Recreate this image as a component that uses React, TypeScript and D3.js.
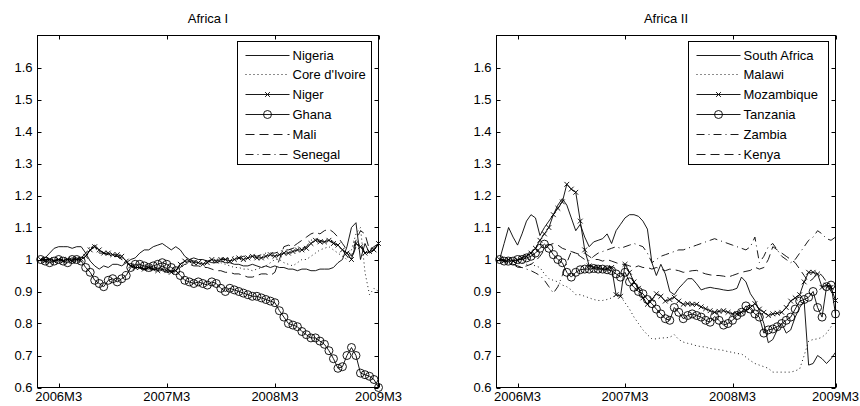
import React from "react";
import * as d3 from "d3";

// ---- time axis (months after 2006M3) ----
const START_MONTH = -2; // first observation
const STEP = 0.5; // months between observations
const X_MIN = -2.35;
const X_MAX = 35.5;
const xTickMonths = [0, 12, 24, 35.5];
const xTickLabels = ["2006M3", "2007M3", "2008M3", "2009M3"];

// ---- value axis ----
const Y_MIN = 0.6;
const Y_MAX = 1.7;
const yTickValues = [0.6, 0.7, 0.8, 0.9, 1.0, 1.1, 1.2, 1.3, 1.4, 1.5, 1.6];
const yTickLabels = ["0.6", "0.7", "0.8", "0.9", "1", "1.1", "1.2", "1.3", "1.4", "1.5", "1.6"];

// ---- Africa I ----
const africa1Names = ["Nigeria", "Core d'Ivoire", "Niger", "Ghana", "Mali", "Senegal"];

const nigeria = [1.0, 1.005, 1.02, 1.035,
  1.04, 1.04, 1.04, 1.035, 1.04, 1.04, 1.02, 0.995, 0.98, 0.97, 0.98, 0.975, 0.985, 0.985, 0.98, 0.99, 1.0, 1.005, 1.02, 1.03, 1.03, 1.04, 1.045, 1.05,
  1.04, 1.03, 1.04, 1.03, 1.01, 1.0, 1.005, 1.0, 1.0, 0.995, 0.99, 0.99, 0.995, 0.99, 0.99, 0.985, 0.985, 0.98, 0.98, 0.985, 0.98, 0.975, 0.98, 0.975,
  0.98, 0.975, 0.975, 0.97, 0.97, 0.965, 0.97, 0.97, 0.965, 0.965, 0.97, 0.97, 0.97, 0.975, 0.99, 1.0, 1.04, 1.1, 1.115, 1.0, 1.05, 1.02, 1.03, 1.05];

const coteDIvoire = [1.0, 1.0, 0.995, 1.0,
  1.0, 1.005, 1.0, 1.0, 1.005, 1.0, 1.02, 1.04, 1.035, 1.025, 1.02, 1.015, 1.01, 1.01, 1.0, 0.985, 0.98, 0.98, 0.975, 0.98, 0.975, 0.975, 0.97, 0.97,
  0.965, 0.96, 0.965, 0.98, 0.99, 0.99, 0.995, 0.99, 0.99, 0.995, 0.995, 0.99, 0.99, 0.985, 0.98, 0.975, 0.975, 0.97, 0.97, 0.965, 0.97, 0.975, 0.98, 0.99,
  1.0, 1.0, 0.99, 0.985, 0.98, 0.99, 1.0, 1.0, 1.01, 1.02, 1.03, 1.035, 1.04, 1.03, 1.02, 1.01, 1.0, 1.03, 1.08, 1.1, 0.96, 0.89, 0.91, 0.9];

const niger = [1.0, 0.995, 1.0, 0.995,
  1.0, 0.995, 1.0, 0.995, 1.0, 1.0, 1.01, 1.03, 1.04, 1.03, 1.02, 1.02, 1.015, 1.015, 1.01, 0.995, 0.98, 0.975, 0.975, 0.97, 0.975, 0.97, 0.965, 0.97,
  0.965, 0.96, 0.965, 0.985, 0.995, 0.995, 0.99, 0.99, 0.985, 0.99, 1.0, 0.995, 1.0, 1.0, 0.995, 1.0, 1.005, 1.0, 1.005, 1.01, 1.005, 1.005, 1.01, 1.015,
  1.01, 1.015, 1.02, 1.02, 1.025, 1.03, 1.03, 1.035, 1.05, 1.06, 1.055, 1.055, 1.06, 1.05, 1.045, 1.03, 1.02, 1.0, 1.05, 1.04, 1.02, 1.025, 1.03, 1.05];

const ghana = [1.0, 0.995, 0.99, 0.995,
  1.0, 0.995, 0.99, 1.0, 1.0, 0.995, 0.975, 0.96, 0.935, 0.925, 0.915, 0.935, 0.94, 0.93, 0.94, 0.95, 0.975, 0.985, 0.985, 0.98, 0.975, 0.98, 0.985, 0.99,
  0.985, 0.975, 0.965, 0.95, 0.935, 0.93, 0.925, 0.93, 0.925, 0.92, 0.93, 0.925, 0.91, 0.9, 0.91, 0.905, 0.9, 0.895, 0.89, 0.885, 0.885, 0.88, 0.875, 0.87,
  0.865, 0.84, 0.82, 0.8, 0.795, 0.79, 0.775, 0.765, 0.755, 0.755, 0.745, 0.735, 0.715, 0.69, 0.66, 0.665, 0.7, 0.725, 0.7, 0.645, 0.64, 0.635, 0.625, 0.6];

const mali = [1.0, 1.0, 1.0, 0.995,
  1.0, 1.0, 1.0, 1.005, 1.0, 1.005, 1.02, 1.035, 1.045, 1.03, 1.02, 1.015, 1.015, 1.01, 1.0, 0.99, 0.98, 0.98, 0.975, 0.97, 0.975, 0.97, 0.97, 0.975,
  0.97, 0.965, 0.965, 0.975, 0.985, 0.985, 0.98, 0.98, 0.975, 0.975, 0.97, 0.965, 0.965, 0.96, 0.96, 0.955, 0.955, 0.95, 0.945, 0.945, 0.95, 0.955, 0.955, 0.95,
  0.96, 1.0, 1.04, 1.045, 1.04, 1.05, 1.06, 1.07, 1.08, 1.085, 1.08, 1.09, 1.095, 1.085, 1.07, 1.05, 1.03, 1.01, 1.06, 1.09, 1.08, 1.03, 1.04, 1.05];

const senegal = [1.0, 1.0, 1.005, 1.0,
  1.0, 0.995, 1.0, 1.0, 1.005, 1.0, 1.01, 1.03, 1.04, 1.02, 1.02, 1.015, 1.01, 1.01, 1.005, 0.99, 0.98, 0.975, 0.975, 0.975, 0.97, 0.975, 0.97, 0.965,
  0.96, 0.955, 0.965, 0.985, 0.995, 1.0, 0.995, 0.995, 1.0, 0.995, 1.0, 1.0, 1.005, 1.0, 1.005, 1.01, 1.005, 1.01, 1.01, 1.015, 1.01, 1.015, 1.02, 1.02,
  1.02, 1.025, 1.03, 1.03, 1.035, 1.04, 1.035, 1.04, 1.06, 1.065, 1.06, 1.055, 1.065, 1.055, 1.04, 1.03, 1.01, 1.0, 1.04, 1.05, 1.02, 1.02, 1.035, 1.045];

// ---- Africa II ----
const africa2Names = ["South Africa", "Malawi", "Mozambique", "Tanzania", "Zambia", "Kenya"];

const southAfrica = [1.0, 1.05, 1.1, 1.07,
  1.045, 1.08, 1.12, 1.14, 1.13, 1.075, 1.1, 1.12, 1.14, 1.17, 1.19, 1.17, 1.13, 1.09, 1.11, 1.07, 1.04, 1.055, 1.06, 1.065, 1.08, 1.05, 1.09, 1.11,
  1.13, 1.14, 1.14, 1.135, 1.12, 1.095, 0.99, 0.95, 0.985, 0.955, 0.9, 0.89, 0.91, 0.925, 0.94, 0.94, 0.924, 0.905, 0.91, 0.913, 0.91, 0.908, 0.905, 0.903,
  0.905, 0.91, 0.945, 0.93, 0.893, 0.872, 0.84, 0.8, 0.74, 0.75, 0.78, 0.8, 0.77, 0.78, 0.82, 0.85, 0.87, 0.67, 0.675, 0.7, 0.69, 0.675, 0.69, 0.71];

const malawi = [1.0, 0.995, 0.99, 0.985,
  0.985, 0.99, 0.985, 0.985, 0.98, 0.975, 0.955, 0.94, 0.935, 0.93, 0.92, 0.915, 0.905, 0.89, 0.89, 0.885, 0.88, 0.875, 0.872, 0.872, 0.875, 0.88, 0.89, 0.885,
  0.865, 0.845, 0.82, 0.8, 0.78, 0.765, 0.752, 0.752, 0.755, 0.755, 0.757, 0.765, 0.75, 0.742, 0.738, 0.735, 0.73, 0.728, 0.726, 0.722, 0.72, 0.718, 0.716, 0.712,
  0.71, 0.706, 0.705, 0.695, 0.684, 0.675, 0.67, 0.665, 0.66, 0.648, 0.648, 0.648, 0.648, 0.648, 0.652, 0.658, 0.7, 0.745, 0.75, 0.752, 0.757, 0.77, 0.79, 0.81];

const mozambique = [1.0, 0.995, 1.0, 0.995,
  0.997, 1.005, 1.01, 1.02, 1.035, 1.06, 1.08, 1.1, 1.14, 1.16, 1.18, 1.235, 1.22, 1.21, 1.12, 1.03, 0.98, 0.976, 0.975, 0.97, 0.972, 0.975, 0.89, 0.885,
  0.985, 0.96, 0.93, 0.91, 0.88, 0.86, 0.875, 0.893, 0.885, 0.87, 0.875, 0.882, 0.87, 0.86, 0.862, 0.86, 0.86, 0.852, 0.846, 0.84, 0.835, 0.838, 0.84, 0.835,
  0.83, 0.83, 0.835, 0.84, 0.85, 0.862, 0.845, 0.835, 0.825, 0.83, 0.832, 0.835, 0.85, 0.87, 0.88, 0.89, 0.93, 0.96, 0.96, 0.955, 0.913, 0.92, 0.913, 0.872];

const tanzania = [1.0, 0.995, 0.995, 0.995,
  1.0, 1.0, 1.005, 1.01, 1.02, 1.035, 1.048, 1.035, 1.015, 1.0, 0.99, 0.96, 0.945, 0.96, 0.968, 0.97, 0.97, 0.972, 0.97, 0.97, 0.968, 0.965, 0.955, 0.945,
  0.96, 0.93, 0.913, 0.9, 0.893, 0.875, 0.862, 0.845, 0.83, 0.815, 0.81, 0.85, 0.835, 0.815, 0.825, 0.83, 0.825, 0.82, 0.81, 0.804, 0.822, 0.81, 0.795, 0.8,
  0.81, 0.825, 0.835, 0.855, 0.845, 0.83, 0.82, 0.77, 0.78, 0.783, 0.79, 0.8, 0.81, 0.82, 0.845, 0.87, 0.875, 0.882, 0.9, 0.85, 0.82, 0.915, 0.92, 0.83];

const zambia = [1.0, 0.995, 0.99, 0.985,
  0.976, 0.975, 0.97, 0.965, 0.958, 0.95, 0.935, 0.915, 0.895, 0.915, 0.95, 0.99, 1.025, 1.02, 1.01, 1.0, 0.997, 1.01, 1.02, 1.025, 1.03, 1.035, 1.04, 1.035,
  1.04, 1.045, 1.05, 1.045, 1.04, 1.02, 0.99, 1.0, 1.01, 1.015, 1.02, 1.025, 1.03, 1.03, 1.035, 1.04, 1.045, 1.05, 1.055, 1.06, 1.065, 1.06, 1.055, 1.05,
  1.045, 1.04, 1.035, 1.03, 1.04, 1.07, 0.99, 1.01, 1.04, 1.05, 1.03, 1.01, 1.0, 0.99, 1.0, 1.02, 1.04, 1.06, 1.07, 1.09, 1.08, 1.065, 1.06, 1.07];

const kenya = [1.0, 1.0, 0.99, 0.985,
  0.98, 0.975, 0.98, 0.985, 0.995, 1.01, 1.03, 1.045, 1.05, 1.045, 1.035, 1.03, 1.025, 1.02, 1.015, 1.02, 1.01, 1.0, 1.0, 0.995, 1.0, 0.995, 0.99, 0.985,
  0.985, 0.98, 0.975, 0.98, 0.975, 0.975, 0.97, 0.975, 0.97, 0.965, 0.97, 0.968, 0.965, 0.96, 0.962, 0.965, 0.966, 0.96, 0.955, 0.952, 0.95, 0.95, 0.948, 0.945,
  0.95, 0.955, 0.96, 0.963, 0.966, 0.976, 0.97, 0.975, 1.0, 1.04, 1.03, 1.02, 1.01, 1.0, 0.99, 0.97, 0.95, 0.93, 0.94, 0.96, 0.95, 0.93, 0.9, 0.88];

// ---- styles (kept apart from data) ----
type LineStyle = { dash?: string; marker?: "x" | "o" };
const SOLID: LineStyle = {};
const DOTTED: LineStyle = { dash: "1,3" };
const DASHED: LineStyle = { dash: "9,5" };
const DASHDOT: LineStyle = { dash: "8,4,1,4" };
const XMARK: LineStyle = { marker: "x" };
const OMARK: LineStyle = { marker: "o" };

const africa1Styles = [SOLID, DOTTED, XMARK, OMARK, DASHED, DASHDOT];
const africa2Styles = [SOLID, DOTTED, XMARK, OMARK, DASHDOT, DASHED];

const FONT = "'Liberation Sans', Arial, Helvetica, sans-serif";
const TOP = 35.5;
const BOTTOM = 387.5;

function Marker({ kind, cx, cy }: { kind: "x" | "o"; cx: number; cy: number }) {
  if (kind === "o") {
    return <circle cx={cx} cy={cy} r={4} fill="none" stroke="#000" strokeWidth={0.9} />;
  }
  const s = 2.4;
  return (
    <path
      d={`M${cx - s},${cy - s}L${cx + s},${cy + s}M${cx - s},${cy + s}L${cx + s},${cy - s}`}
      stroke="#000"
      strokeWidth={0.9}
      fill="none"
    />
  );
}

function Panel({
  title,
  left,
  right,
  names,
  series,
  styles,
  legendWidth,
}: {
  title: string;
  left: number;
  right: number;
  names: string[];
  series: number[][];
  styles: LineStyle[];
  legendWidth: number;
}) {
  const x = d3.scaleLinear().domain([X_MIN, X_MAX]).range([left, right]);
  const y = d3.scaleLinear().domain([Y_MIN, Y_MAX]).range([BOTTOM, TOP]);
  const line = d3
    .line<number>()
    .x((_, i) => x(START_MONTH + i * STEP))
    .y((v) => y(v));

  const tickLen = 4;
  const lgX = right - 7 - legendWidth;
  const lgY = 41.5;
  const rowY = (i: number) => 54.5 + i * 19.95;

  return (
    <g fontFamily={FONT} fontSize={13} fill="#000">
      {/* data */}
      {series.map((vals, si) => {
        const st = styles[si];
        return (
          <g key={names[si]}>
            <path
              d={line(vals) || ""}
              fill="none"
              stroke="#000"
              strokeWidth={0.9}
              strokeDasharray={st.dash}
            />
            {st.marker &&
              vals.map((v, i) => (
                <Marker key={i} kind={st.marker!} cx={x(START_MONTH + i * STEP)} cy={y(v)} />
              ))}
          </g>
        );
      })}

      {/* axes box */}
      <rect x={left} y={TOP} width={right - left} height={BOTTOM - TOP} fill="none" stroke="#000" strokeWidth={1} />

      {/* y ticks */}
      {yTickValues.map((v, i) => (
        <g key={"y" + i}>
          <line x1={left} x2={left + tickLen} y1={Math.round(y(v)) + 0.5} y2={Math.round(y(v)) + 0.5} stroke="#000" />
          <line x1={right - tickLen} x2={right} y1={Math.round(y(v)) + 0.5} y2={Math.round(y(v)) + 0.5} stroke="#000" />
          <text x={left - 5} y={y(v)} dy="0.36em" textAnchor="end">
            {yTickLabels[i]}
          </text>
        </g>
      ))}

      {/* x ticks */}
      {xTickMonths.map((m, i) => (
        <g key={"x" + i}>
          <line x1={Math.round(x(m)) + 0.5} x2={Math.round(x(m)) + 0.5} y1={BOTTOM} y2={BOTTOM - tickLen} stroke="#000" />
          <line x1={Math.round(x(m)) + 0.5} x2={Math.round(x(m)) + 0.5} y1={TOP} y2={TOP + tickLen} stroke="#000" />
          <text x={x(m)} y={401} textAnchor="middle">
            {xTickLabels[i]}
          </text>
        </g>
      ))}

      {/* title */}
      <text x={(left + right) / 2} y={23} textAnchor="middle">
        {title}
      </text>

      {/* legend */}
      <rect x={lgX} y={lgY} width={legendWidth} height={123} fill="#fff" stroke="#000" strokeWidth={1} />
      {names.map((n, i) => {
        const st = styles[i];
        const ly = Math.round(rowY(i)) + 0.5;
        const x1 = lgX + 8;
        const x2 = lgX + 52;
        return (
          <g key={"lg" + i}>
            <line x1={x1} x2={x2} y1={ly} y2={ly} stroke="#000" strokeWidth={0.9} strokeDasharray={st.dash} />
            {st.marker && <Marker kind={st.marker} cx={(x1 + x2) / 2} cy={ly} />}
            <text x={x2 + 3} y={ly} dy="0.36em">
              {n}
            </text>
          </g>
        );
      })}
    </g>
  );
}

export default function App() {
  return (
    <svg
      width={860}
      height={406}
      viewBox="0 0 860 406"
      style={{ position: "absolute", left: 0, top: 0, background: "#fff" }}
    >
      <rect x={0} y={0} width={860} height={406} fill="#fff" />
      <Panel
        title="Africa I"
        left={37.5}
        right={378.5}
        names={africa1Names}
        series={[nigeria, coteDIvoire, niger, ghana, mali, senegal]}
        styles={africa1Styles}
        legendWidth={134}
      />
      <Panel
        title="Africa II"
        left={496.5}
        right={835.5}
        names={africa2Names}
        series={[southAfrica, malawi, mozambique, tanzania, zambia, kenya]}
        styles={africa2Styles}
        legendWidth={140}
      />
    </svg>
  );
}
